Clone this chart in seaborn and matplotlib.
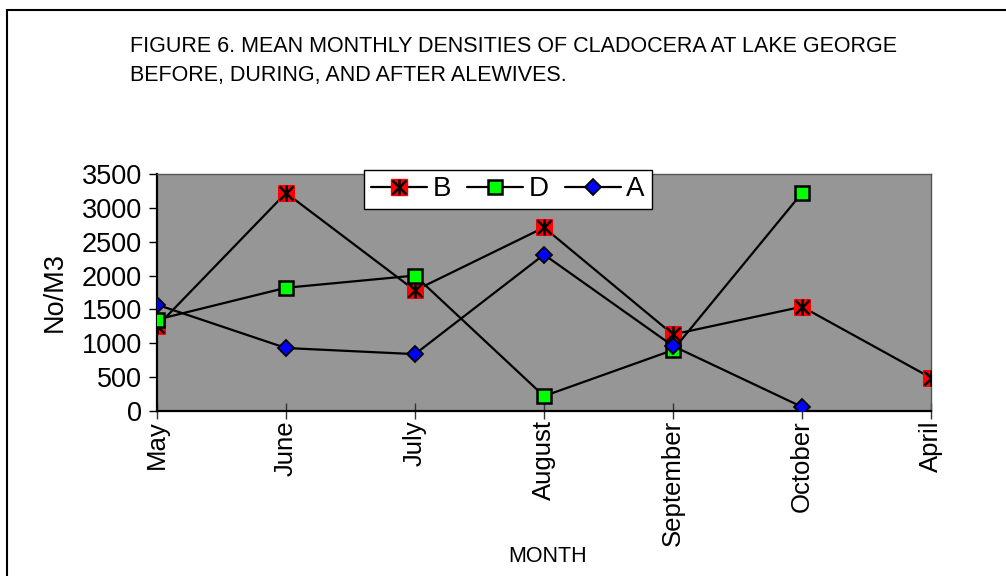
import numpy as np
import pandas as pd
import matplotlib
matplotlib.use("Agg")
import matplotlib.pyplot as plt
from matplotlib.lines import Line2D
from matplotlib.patches import Rectangle
from matplotlib.legend_handler import HandlerTuple
import seaborn as sns

months = ["May", "June", "July", "August", "September", "October", "April"]
B = [1250, 3220, 1780, 2710, 1130, 1540, 490]
D = [1350, 1820, 2000, 220, 900, 3220, np.nan]
A = [1570, 930, 840, 2310, 960, 60, np.nan]
y_ticks = [0, 500, 1000, 1500, 2000, 2500, 3000, 3500]
title = "FIGURE 6. MEAN MONTHLY DENSITIES OF CLADOCERA AT LAKE GEORGE\nBEFORE, DURING, AND AFTER ALEWIVES."

sns.set_style("white")
plt.rcParams['font.family'] = ['Liberation Sans', 'DejaVu Sans']
plt.rcParams['text.color'] = 'black'
plt.rcParams['axes.labelcolor'] = 'black'
plt.rcParams['xtick.color'] = 'black'
plt.rcParams['ytick.color'] = 'black'

df = pd.DataFrame({"month": months, "idx": np.arange(len(months)), "B": B, "D": D, "A": A})

fig = plt.figure(figsize=(10.06, 5.76), dpi=100)
ax = fig.add_axes([157/1006, 1-411/576, (931-157)/1006, (411-174)/576])
ax.set_facecolor("#969696")

lw = 1.6
# B: red square with black star
sns.lineplot(data=df, x="idx", y="B", ax=ax, color="black", lw=lw, marker="s",
             markersize=11, markerfacecolor="#ff0000", markeredgecolor="#ff0000", zorder=3)
sns.lineplot(data=df, x="idx", y="B", ax=ax, color="black", lw=0, marker="x",
             markersize=10, markeredgewidth=1.8, markeredgecolor="black", zorder=4)
sns.lineplot(data=df, x="idx", y="B", ax=ax, color="black", lw=0, marker="|",
             markersize=11, markeredgewidth=1.8, markeredgecolor="black", zorder=4)
# D: green square
sns.lineplot(data=df.dropna(subset=["D"]), x="idx", y="D", ax=ax, color="black", lw=lw, marker="s",
             markersize=10, markerfacecolor="#00ff00", markeredgecolor="black", markeredgewidth=1.8, zorder=5)
# A: blue diamond
sns.lineplot(data=df.dropna(subset=["A"]), x="idx", y="A", ax=ax, color="black", lw=lw, marker="D",
             markersize=8, markerfacecolor="#0000ff", markeredgecolor="black", markeredgewidth=1.3, zorder=6)

ax.set_xlim(0, len(months)-1)
ax.set_ylim(0, 3500)
ax.set_xticks(np.arange(len(months)))
ax.set_xticklabels(months, rotation=90, fontsize=18.5)
ax.set_yticks(y_ticks)
ax.set_yticklabels([str(v) for v in y_ticks], fontsize=19.5)
ax.tick_params(axis="y", direction="out", length=6, width=1, color="black", pad=5, left=True)
ax.tick_params(axis="x", direction="inout", length=11, width=1, color="#333333", pad=1, bottom=True)
ax.set_xlabel("")
ax.set_ylabel("No/M3", fontsize=19.5, labelpad=10)
for s in ["left", "bottom"]:
    ax.spines[s].set_color("black")
    ax.spines[s].set_linewidth(1.6)
for s in ["top", "right"]:
    ax.spines[s].set_color("#555555")
    ax.spines[s].set_linewidth(1.0)

fig.text(548/1006, 1-557/576, "MONTH", fontsize=15.5, ha="center", va="center")
fig.text(130/1006, 1-61/576, title, fontsize=15.5, ha="left", va="center", linespacing=1.55)

# legend
hB = (Line2D([], [], color="black", lw=lw, marker="s", markersize=11, markerfacecolor="#ff0000", markeredgecolor="#ff0000"),
      Line2D([], [], lw=0, marker="x", markersize=10, markeredgewidth=1.8, markeredgecolor="black"),
      Line2D([], [], lw=0, marker="|", markersize=11, markeredgewidth=1.8, markeredgecolor="black"))
hD = Line2D([], [], color="black", lw=lw, marker="s", markersize=10, markerfacecolor="#00ff00",
            markeredgecolor="black", markeredgewidth=1.8)
hA = Line2D([], [], color="black", lw=lw, marker="D", markersize=8, markerfacecolor="#0000ff",
            markeredgecolor="black", markeredgewidth=1.3)
leg = fig.legend([hB, hD, hA], ["B", "D", "A"], ncol=3, loc="center",
                 bbox_to_anchor=(508/1006, 1-189.5/576), fontsize=20, frameon=True, fancybox=False,
                 handler_map={tuple: HandlerTuple(ndivide=1, pad=0)}, handlelength=2.0,
                 handletextpad=0.2, columnspacing=0.6, borderpad=0.25, edgecolor="black", framealpha=1)
leg.get_frame().set_linewidth(1.0)

# outer chart border (top and left visible)
fig.add_artist(Rectangle((7/1006, -0.5), 1.5, 0.5 + (1 - 10/576), transform=fig.transFigure,
                         fill=False, edgecolor="black", lw=1.5, clip_on=False))

fig.savefig("out.png", dpi=100, facecolor="white")
